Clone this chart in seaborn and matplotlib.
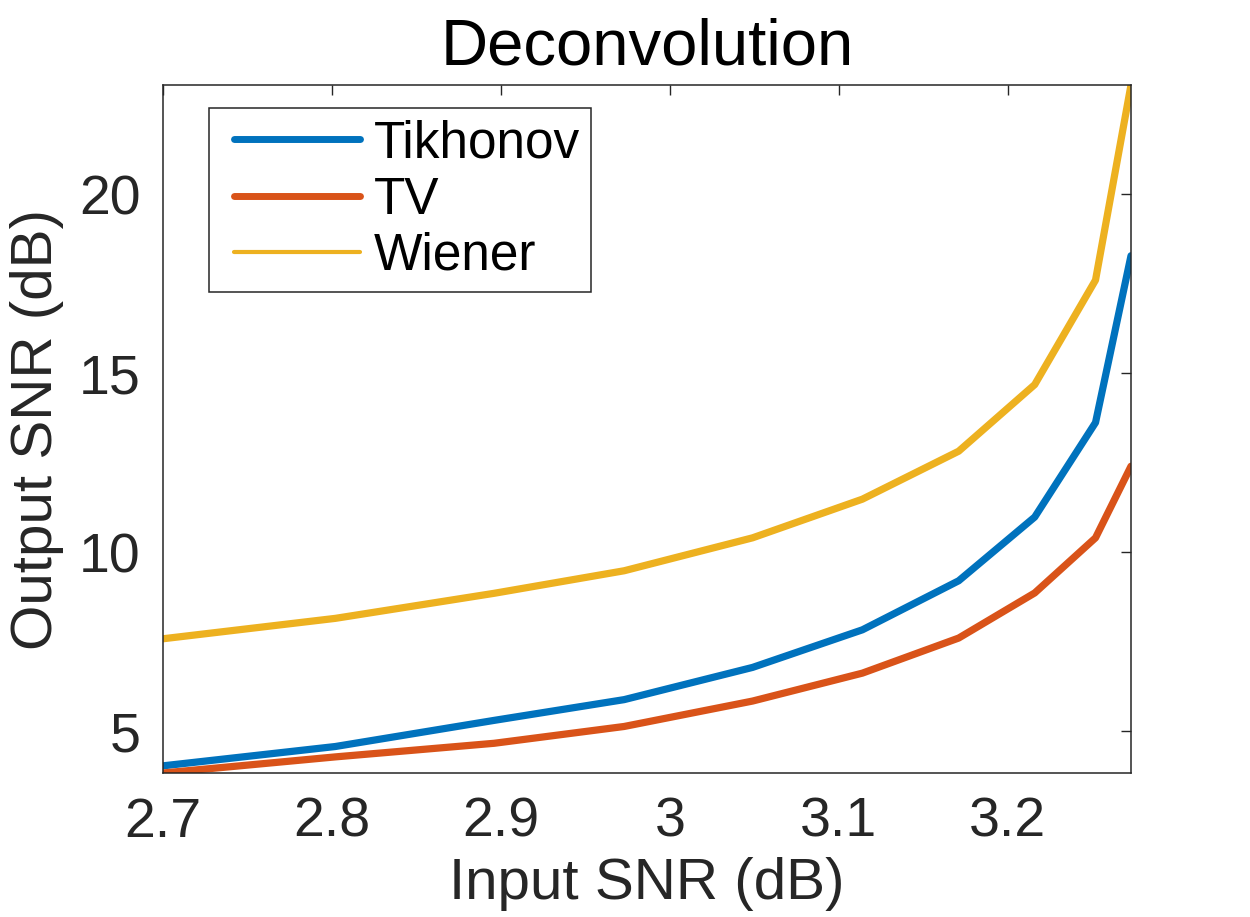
import numpy as np
import pandas as pd
import matplotlib
matplotlib.use("Agg")
import matplotlib.pyplot as plt
from matplotlib.legend_handler import HandlerLine2D
import seaborn as sns

# ----------------------------
# Data
# ----------------------------
input_snr = [2.700, 2.802, 2.896, 2.973, 3.049, 3.114, 3.171, 3.216, 3.252, 3.273]
tikhonov = [4.03, 4.57, 5.30, 5.88, 6.78, 7.83, 9.20, 10.98, 13.62, 18.28]
tv = [3.83, 4.28, 4.66, 5.13, 5.84, 6.62, 7.60, 8.86, 10.40, 12.40]
wiener = [7.58, 8.15, 8.85, 9.48, 10.40, 11.48, 12.82, 14.68, 17.60, 23.05]

methods = ["Tikhonov", "TV", "Wiener"]
colors = ["#0072BD", "#D95319", "#EDB120"]
x_ticks = [2.7, 2.8, 2.9, 3.0, 3.1, 3.2]
x_ticklabels = ["2.7", "2.8", "2.9", "3", "3.1", "3.2"]
y_ticks = [5, 10, 15, 20]

df = pd.DataFrame({
    "Input SNR (dB)": input_snr * 3,
    "Output SNR (dB)": tikhonov + tv + wiener,
    "method": [m for m in methods for _ in input_snr],
})

# ----------------------------
# Style
# ----------------------------
sns.set_style("white")
plt.rcParams["font.family"] = ["Liberation Sans", "DejaVu Sans"]
dark = "#262626"

fig = plt.figure(figsize=(12.5, 9.17), dpi=100)
ax = fig.add_axes([163 / 1250, 1 - 773 / 917, 968 / 1250, 688 / 917])

sns.lineplot(data=df, x="Input SNR (dB)", y="Output SNR (dB)", hue="method",
             palette=dict(zip(methods, colors)), linewidth=5.2, ax=ax,
             legend=False, sort=False)

ax.set_xlim(min(input_snr), max(input_snr))
ax.set_ylim(min(tv), max(wiener))
ax.set_xticks(x_ticks)
ax.set_xticklabels(x_ticklabels)
ax.set_yticks(y_ticks)

ax.tick_params(axis="both", direction="in", length=7.5, width=1.0, color=dark,
               labelcolor=dark, labelsize=40, top=True, right=True)
ax.tick_params(axis="x", pad=17)
ax.tick_params(axis="y", pad=16)
for s in ax.spines.values():
    s.set_color(dark)
    s.set_linewidth(1.1)

ax.set_xlabel("Input SNR (dB)", fontsize=42, color=dark, labelpad=6)
ax.set_ylabel("Output SNR (dB)", fontsize=42, color=dark, labelpad=11)
ax.set_title("Deconvolution", fontsize=47, color="black", pad=14.5)

# Legend with MATLAB-like box
handles = ax.get_lines()[:3]
fs = 37
leg = ax.legend(handles, methods, loc="upper left",
                bbox_to_anchor=(46 / 968, (773 - 108) / 688),
                borderaxespad=0, fontsize=fs, frameon=True, fancybox=False,
                borderpad=0.22, labelspacing=0.14, handlelength=2.72,
                handletextpad=0.26,
                handler_map={h: HandlerLine2D(xpad=0.27) for h in handles})
leg.get_frame().set_edgecolor(dark)
leg.get_frame().set_linewidth(1.1)
leg.get_frame().set_alpha(1)
for t in leg.get_texts():
    t.set_color("black")
leg_lines = leg.get_lines()
leg_lines[0].set_linewidth(5)
leg_lines[1].set_linewidth(5)
leg_lines[2].set_linewidth(3)

fig.savefig("out.png", dpi=100)
